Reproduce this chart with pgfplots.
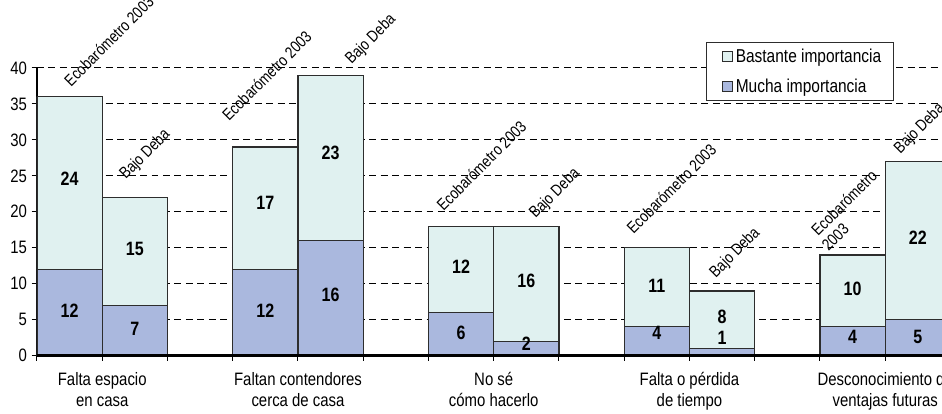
\documentclass[border=0pt]{standalone}
\usepackage{fontspec}
\setmainfont{Liberation Sans}[FakeStretch=0.83]
\usepackage{pgfplots}
\pgfplotsset{compat=1.18}
\definecolor{bast}{RGB}{224,241,240}
\definecolor{mucha}{RGB}{170,184,222}
\definecolor{edge}{RGB}{45,45,45}
\begin{document}
\begin{tikzpicture}
\pgfplotsset{
  common/.style={
    x=48.98pt, y=5.4pt,
    xmin=-0.5, xmax=13.37, ymin=0, ymax=40,
    enlargelimits=false,
  }
}
\begin{axis}[common,
  ybar stacked, bar width=1,
  axis x line*=bottom, axis y line*=left,
  x axis line style={line width=2pt, black},
  y axis line style={line width=0.9pt, black},
  tick align=outside, major tick length=4pt,
  tick style={black, line width=0.75pt},
  ytick={0,5,10,15,20,25,30,35,40},
  xtick={-0.5,0.5,1.5,2.5,3.5,4.5,5.5,6.5,7.5,8.5,9.5,10.5,11.5,12.5},
  xticklabels={{},{Falta espacio\\en casa},{},{},{Faltan contendores\\cerca de casa},{},{},{No sé\\cómo hacerlo},{},{},{Falta o pérdida\\de tiempo},{},{},{Desconocimiento de\\ventajas futuras}},
  xticklabel style={align=center, font=\fontsize{13.5}{15.8}\selectfont, yshift=-5pt},
  yticklabel style={font=\fontsize{13.5}{16}\selectfont},
  /pgf/number format/assume math mode=true,
  ymajorgrids,
  major grid style={black, line width=0.75pt, dash pattern=on 5.2pt off 3.4pt},
  reverse legend,
  legend style={at={(0.9466,1.09)}, anchor=north east, draw=edge, line width=0.75pt,
    fill=white, font=\fontsize{14}{16}\selectfont, legend cell align=left,
    inner xsep=7pt, inner ysep=3pt, row sep=6.5pt},
  legend image code/.code={\path (0pt,0pt); \draw[#1, line width=0.75pt] (4.5pt,-3.75pt) rectangle (12pt,3.75pt);},
]
\addplot[fill=mucha, draw=edge, line width=0.9pt] coordinates {(0,12) (1,7) (3,12) (4,16) (6,6) (7,2) (9,4) (10,1) (12,4) (13,5)};
\addplot[fill=bast, draw=edge, line width=0.9pt] coordinates {(0,24) (1,15) (3,17) (4,23) (6,12) (7,16) (9,11) (10,8) (12,10) (13,22)};
\legend{Mucha importancia, Bastante importancia}
\coordinate (bbsw) at (axis cs:-1.067,-8.06);
\coordinate (bbne) at (axis cs:13.37,49.44);
\end{axis}
\begin{axis}[common, hide axis, clip=false]
\addplot[black, line width=2pt] coordinates {(-0.5,0) (13.37,0)};
\addplot[only marks, mark=*, mark size=0pt, mark options={draw=none, fill=none},
  nodes near coords, point meta=explicit symbolic,
  every node near coord/.append style={font=\fontsize{14.5}{17}\selectfont\bfseries, anchor=center, text=black}]
  coordinates {(0,6.25)[12] (0,24.6)[24] (1,3.75)[7] (1,14.9)[15]
  (3,6.25)[12] (3,21.25)[17] (4,8.5)[16] (4,28.2)[23]
  (6,3.2)[6] (6,12.4)[12] (7,1.7)[2] (7,10.4)[16]
  (9,3.2)[4] (9,9.7)[11] (10,2.5)[1] (10,5.4)[8]
  (12,2.6)[4] (12,9.3)[10] (13,2.6)[5] (13,16.4)[22]};
\addplot[only marks, mark=*, mark size=0pt, mark options={draw=none, fill=none},
  nodes near coords, point meta=explicit symbolic,
  every node near coord/.append style={font=\fontsize{12.2}{14}\selectfont, rotate=45, anchor=base west, inner sep=0pt, text=black}]
  coordinates {(0.02,37.3)[Ecobarómetro 2003] (0.86,24.4)[Bajo Deba]
  (2.44,32.5)[Ecobarómetro 2003] (4.32,40.4)[Bajo Deba]
  (5.73,20.0)[Ecobarómetro 2003] (7.14,19.0)[Bajo Deba]
  (8.64,16.8)[Ecobarómetro 2003] (9.9,10.7)[Bajo Deba]
  (11.47,16.5)[Ecobarómetro] (11.63,14.4)[2003] (12.73,28.0)[Bajo Deba]};
\end{axis}
\pgfresetboundingbox
\path[use as bounding box] (bbsw) rectangle (bbne);
\end{tikzpicture}
\end{document}
